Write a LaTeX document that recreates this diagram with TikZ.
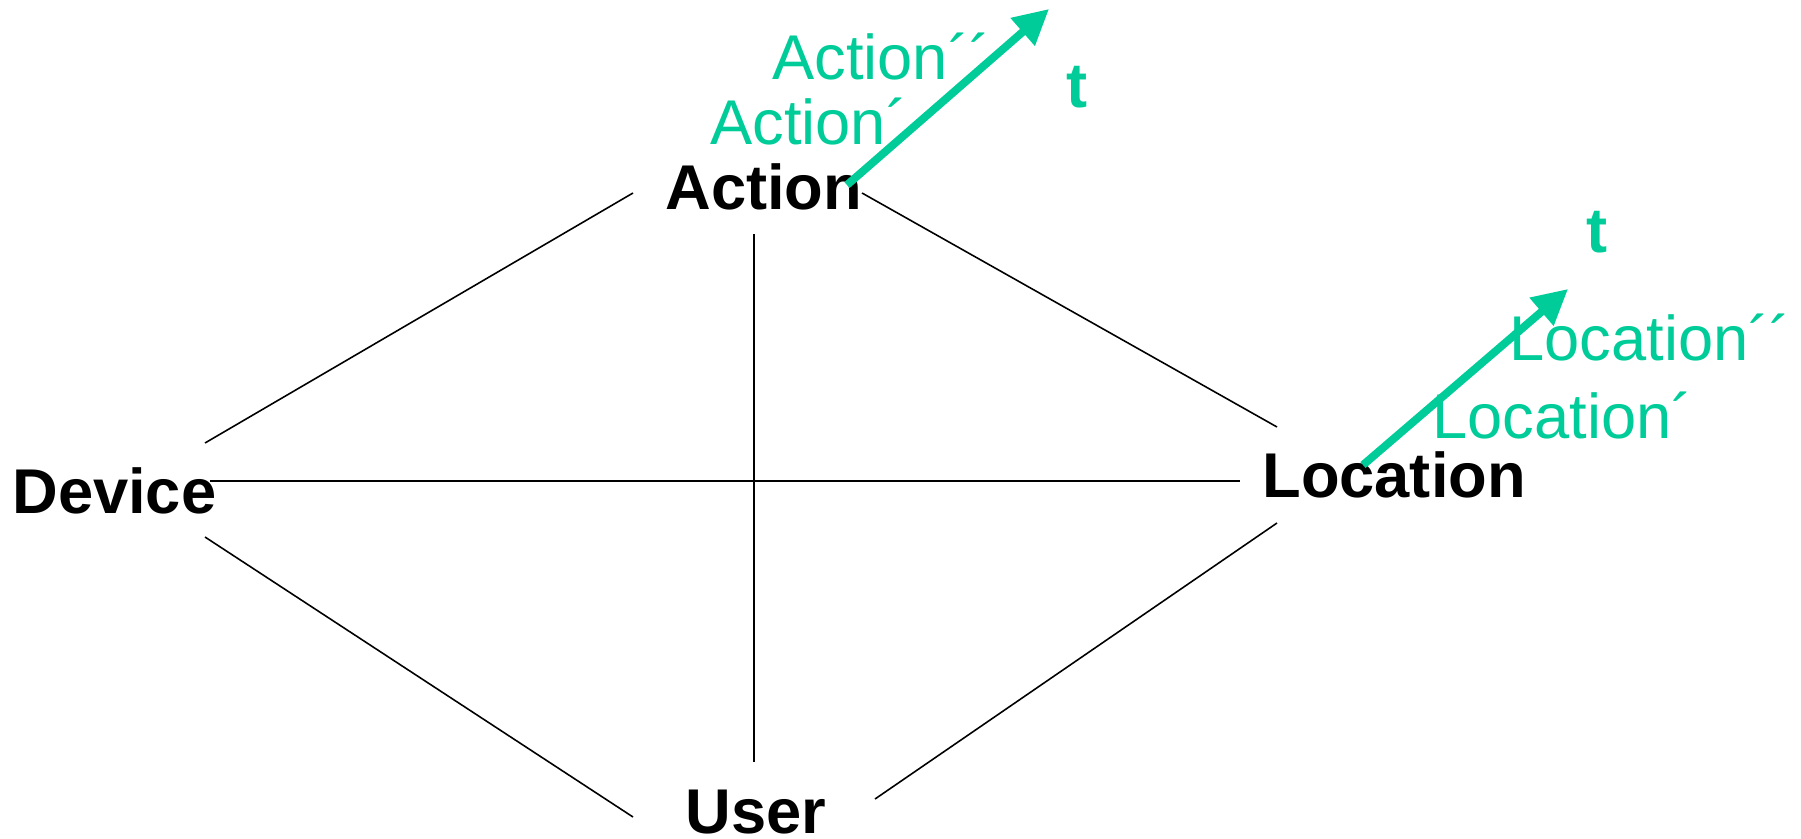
\documentclass[tikz,border=0pt]{standalone}
\usepackage{fontspec}
\setmainfont{Liberation Sans}
\usetikzlibrary{arrows.meta}
\definecolor{timegreen}{RGB}{0,204,153}
\tikzset{
	dimension/.style={font=\fontsize{36}{43}\selectfont\bfseries, inner sep=0pt, anchor=base west},
	version/.style={font=\fontsize{36}{43}\selectfont, text=timegreen, inner sep=0pt, anchor=base west},
	tlabel/.style={dimension, text=timegreen},
	link/.style={draw=black, line width=0.9pt},
	timeline/.style={draw=timegreen, line width=4.5pt, -{Triangle[length=0.7cm,width=0.7cm]}}
}
\begin{document}
\begin{tikzpicture}[x=0.02cm, y=-0.02cm]
		
		\useasboundingbox (0,0) rectangle (1801,838);
		
		% Dimensions
		\node [dimension] (Action) at (665,209) {Action};
		\node [dimension] (Device) at (12,513) {Device};
		\node [dimension] (Location) at (1262,497) {Location};
		\node [dimension] (User) at (685,833) {User};
		
		% Links
		\draw [link] ([shift={(193,-70)}]Device.base west) -- ([shift={(-32,-16)}]Action.base west);
		\draw [link] ([shift={(197,-16)}]Action.base west) -- ([shift={(15,-70)}]Location.base west);
		\draw [link] ([shift={(89,25)}]Action.base west) -- ([shift={(69,-71)}]User.base west);
		\draw [link] ([shift={(198,-32)}]Device.base west) -- ([shift={(-22,-16)}]Location.base west);
		\draw [link] ([shift={(193,24)}]Device.base west) -- ([shift={(-52,-16)}]User.base west);
		\draw [link] ([shift={(15,26)}]Location.base west) -- ([shift={(190,-34)}]User.base west);
		
		% Versions of Action
		\node [version] (Action2) at (772,80) {Action´´};
		\node [version] (Action1) at (710,144) {Action´};
		\node [tlabel] (tAction) at (1066,108) {t};
		\coordinate (ActionTip) at (1049,9);
		\draw [timeline] ([shift={(182,-24)}]Action.base west) -- (ActionTip);
		
		% Versions of Location
		\node [version] (Location2) at (1509,360) {Location´´};
		\node [version] (Location1) at (1432,438) {Location´};
		\node [tlabel] (tLocation) at (1586,252) {t};
		\coordinate (LocationTip) at (1568,289);
		\draw [timeline] ([shift={(101,-32)}]Location.base west) -- (LocationTip);
		
	\end{tikzpicture}
\end{document}
